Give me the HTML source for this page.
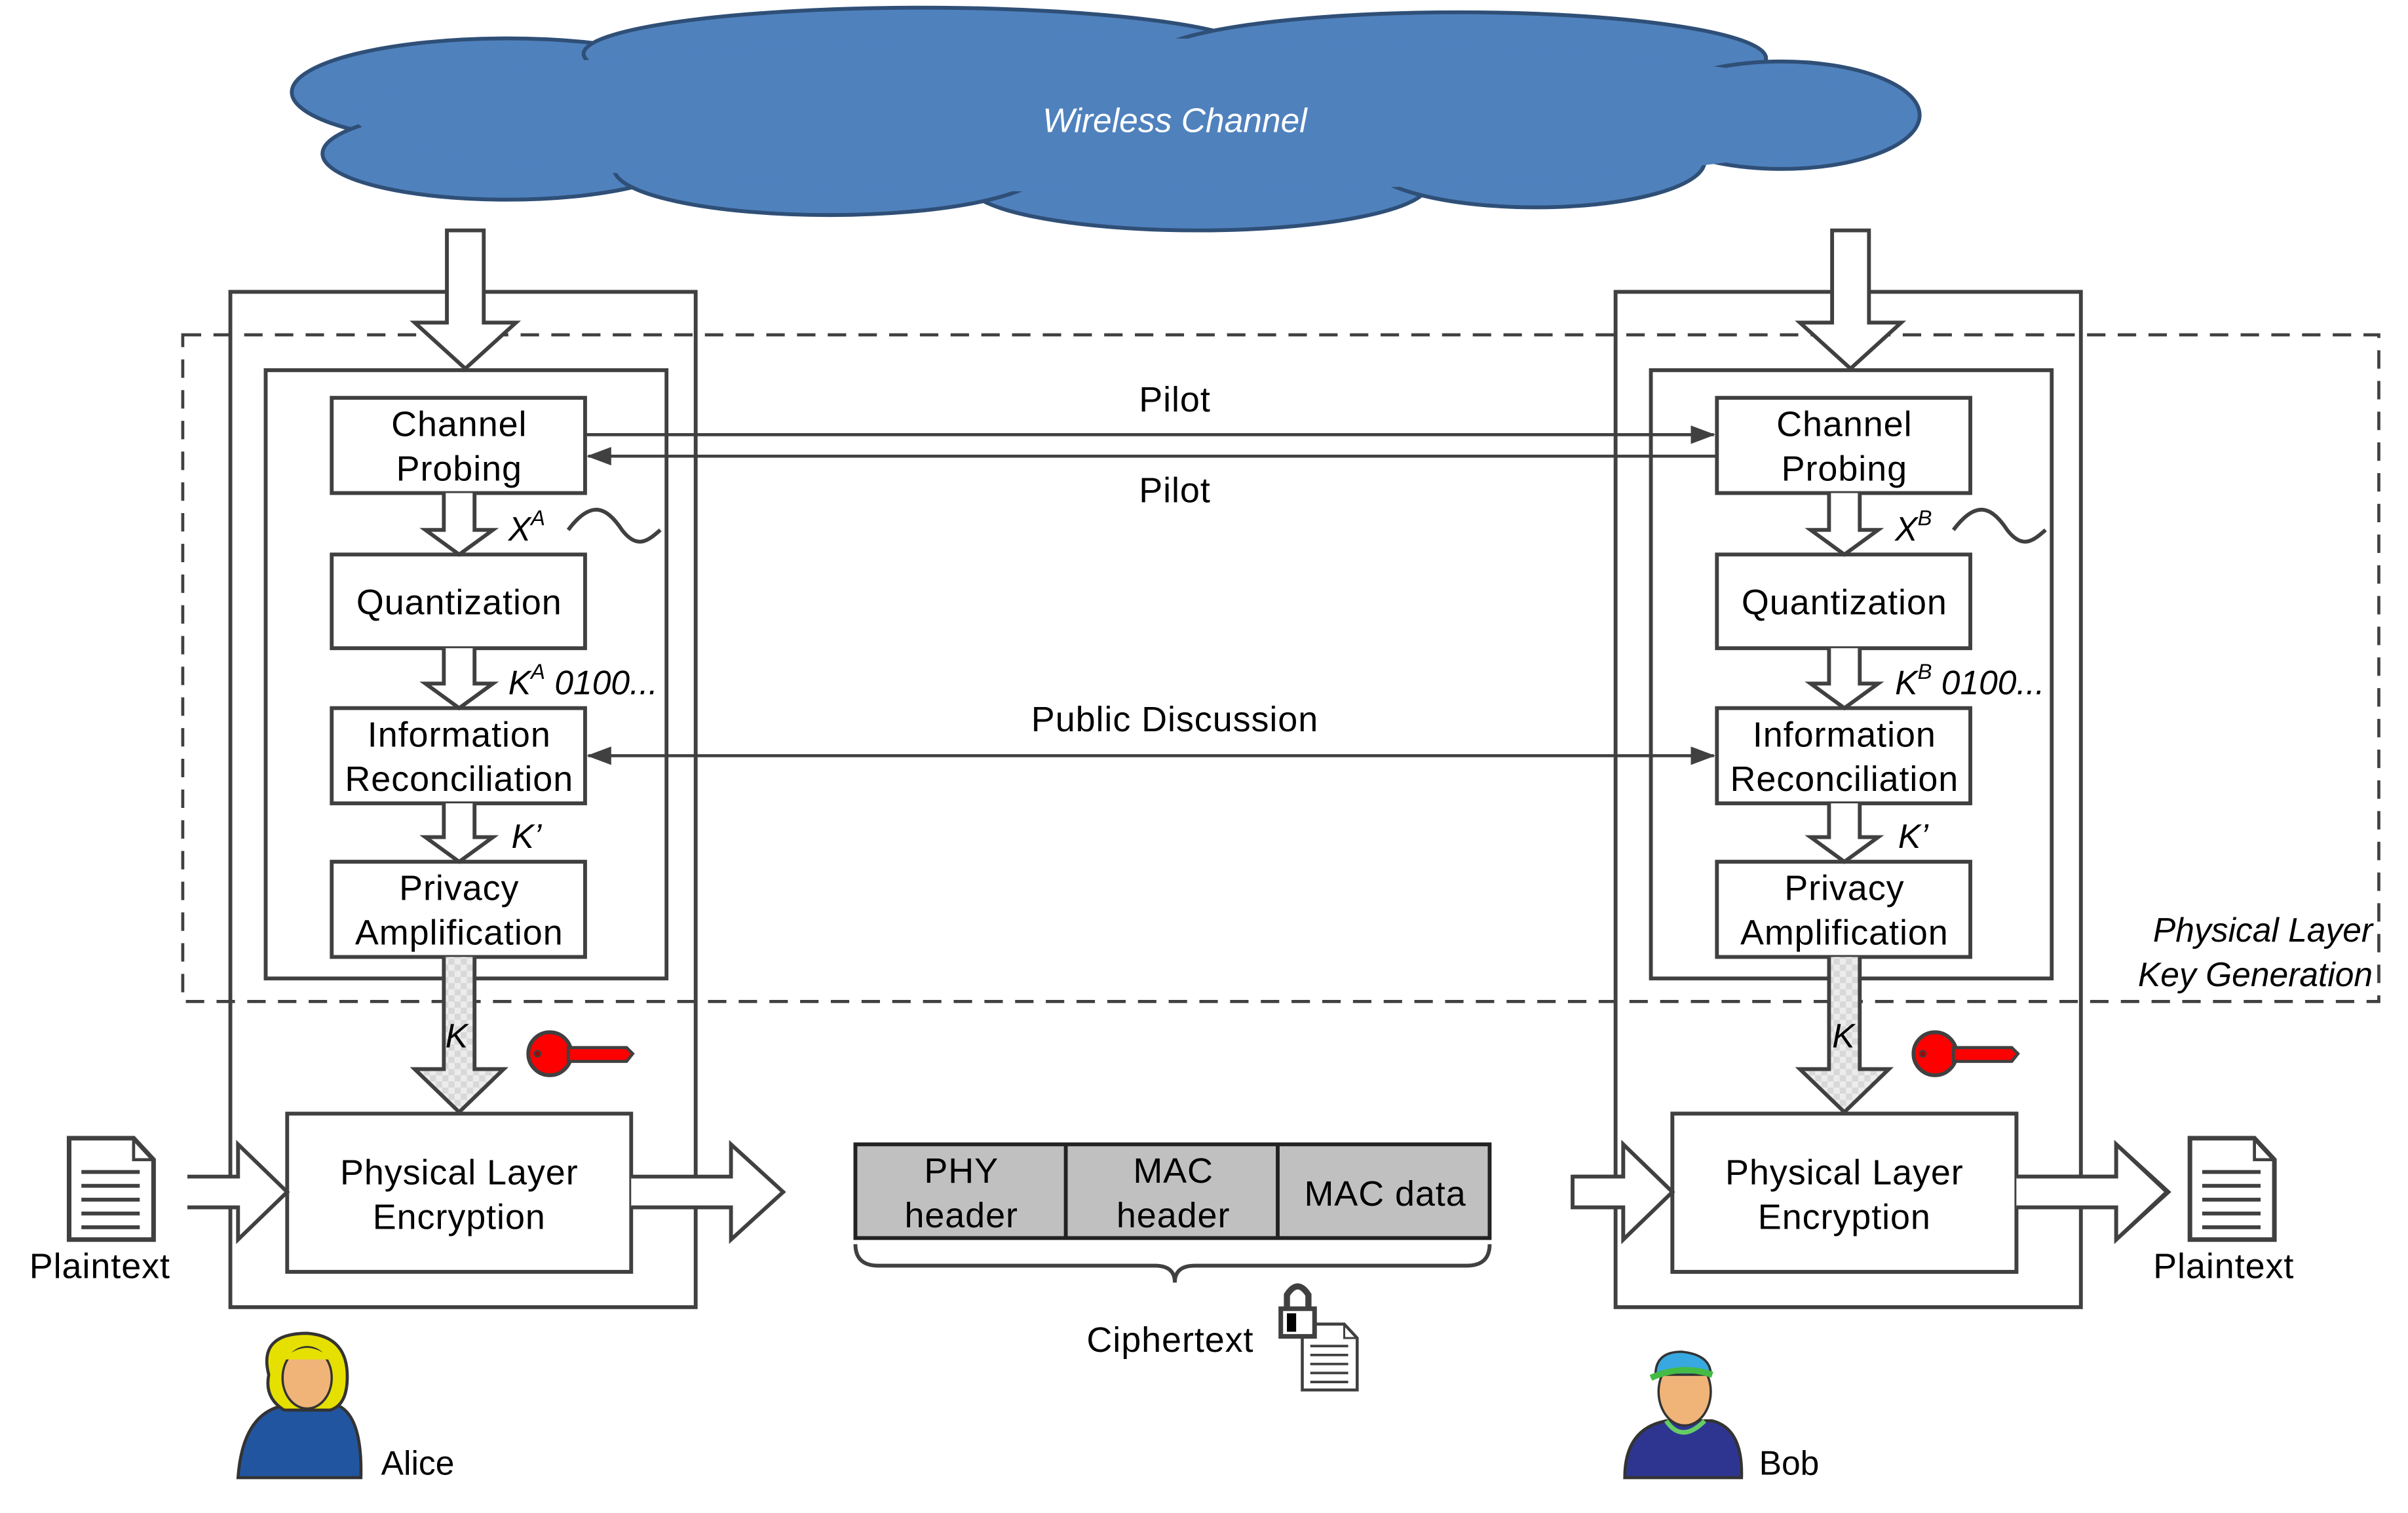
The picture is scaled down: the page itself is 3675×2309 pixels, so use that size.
<!DOCTYPE html>
<html><head><meta charset="utf-8"><style>
html,body{margin:0;padding:0;background:#fff;}
svg{display:block;}
text{font-family:"Liberation Sans",sans-serif;fill:#000;}
</style></head><body>
<svg width="3675" height="2309" viewBox="0 0 1568 985" preserveAspectRatio="none" xmlns="http://www.w3.org/2000/svg">
<defs>
<pattern id="chk" width="8" height="8" patternUnits="userSpaceOnUse">
<rect width="8" height="8" fill="#d8d8d8"/><rect width="4" height="4" fill="#ececec"/><rect x="4" y="4" width="4" height="4" fill="#ececec"/>
</pattern>
<marker id="ahs" markerWidth="16" markerHeight="12" refX="15" refY="6" orient="auto-start-reverse" markerUnits="userSpaceOnUse"><path d="M0,0 L16,6 L0,12 z" fill="#404040"/></marker>
<g id="doc"><path d="M0,0 H42 L55,14 V66 H0 Z" fill="#fff" stroke="#404040" stroke-width="3"/><path d="M42,0 V14 H55" fill="none" stroke="#404040" stroke-width="2"/><g stroke="#404040" stroke-width="2.5"><line x1="8" y1="22" x2="46" y2="22"/><line x1="8" y1="31" x2="46" y2="31"/><line x1="8" y1="40" x2="46" y2="40"/><line x1="8" y1="49" x2="46" y2="49"/><line x1="8" y1="58" x2="46" y2="58"/></g></g>
<g id="key"><circle cx="16" cy="0" r="14" fill="#f00" stroke="#404040" stroke-width="2.5"/><path d="M28,-4 H66 L70,0 L66,5 H28 Z" fill="#f00" stroke="#404040" stroke-width="2"/><circle cx="8" cy="0" r="2" fill="#a00" stroke="#404040"/></g>
</defs>

<g fill="#4f81bd" stroke="#2f4f77" stroke-width="2.5">
<ellipse cx="330" cy="60" rx="140" ry="35"/>
<ellipse cx="600" cy="35" rx="220" ry="30"/>
<ellipse cx="950" cy="38" rx="200" ry="30"/>
<ellipse cx="1160" cy="75" rx="90" ry="35"/>
<ellipse cx="330" cy="100" rx="120" ry="30"/>
<ellipse cx="780" cy="120" rx="150" ry="30"/>
<ellipse cx="1000" cy="105" rx="110" ry="30"/>
<ellipse cx="540" cy="110" rx="140" ry="30"/>
</g>
<ellipse cx="730" cy="75" rx="500" ry="50" fill="#4f81bd"/>
<text x="765" y="86" font-size="22" font-style="italic" text-anchor="middle" style="fill:#fff">Wireless Channel</text>

<rect x="119" y="218" width="1430" height="434" fill="none" stroke="#404040" stroke-width="2" stroke-dasharray="12,8"/>
<text x="1545" y="613" font-size="22" font-style="italic" text-anchor="end">Physical Layer</text>
<text x="1545" y="642" font-size="22" font-style="italic" text-anchor="end">Key Generation</text>

<g id="party" stroke="#404040" stroke-width="2.5" fill="none">
<rect x="150" y="190" width="303" height="661"/>
<rect x="173" y="241" width="261" height="396"/>
<path d="M291,150 H315 V210 H336 L303,240 L270,210 H291 Z" fill="#fff"/>
<rect x="216" y="259" width="165" height="62" fill="#fff"/>
<rect x="216" y="361" width="165" height="61" fill="#fff"/>
<rect x="216" y="461" width="165" height="62" fill="#fff"/>
<rect x="216" y="561" width="165" height="62" fill="#fff"/>
<path d="M289,321 V345 H277 L299,361 L321,345 H309 V321" fill="#fff"/>
<path d="M289,422 V445 H277 L299,461 L321,445 H309 V422" fill="#fff"/>
<path d="M289,523 V545 H277 L299,561 L321,545 H309 V523" fill="#fff"/>
<path d="M289,623 V696 H270 L299,724 L328,696 H309 V623" fill="url(#chk)"/>
<path d="M370,345 C385,325 395,330 405,345 C415,358 422,352 430,345"/>
<rect x="187" y="725" width="224" height="103" fill="#fff"/>
<path d="M122,766 H155 V745 L187,776 L155,807 V786 H122" fill="#fff"/>
<path d="M411,766 H476 V745 L510,776 L476,807 V786 H411" fill="#fff"/>
</g>
<use href="#party" x="902"/>
<rect x="1089" y="725" width="224" height="103" fill="#fff" stroke="#404040" stroke-width="2.5"/>
<path d="M1024,766 H1057 V745 L1089,776 L1057,807 V786 H1024 Z" fill="#fff" stroke="#404040" stroke-width="2.5"/>
<path d="M1313,766 H1378 V745 L1411,776 L1378,807 V786 H1313" fill="#fff" stroke="#404040" stroke-width="2.5"/>

<g font-size="23" text-anchor="middle" letter-spacing="0.4">
<text x="299" y="284">Channel</text><text x="299" y="313">Probing</text>
<text x="299" y="400">Quantization</text>
<text x="299" y="486">Information</text><text x="299" y="515">Reconciliation</text>
<text x="299" y="586">Privacy</text><text x="299" y="615">Amplification</text>
<text x="299" y="771">Physical Layer</text><text x="299" y="800">Encryption</text>
<text x="1201" y="284">Channel</text><text x="1201" y="313">Probing</text>
<text x="1201" y="400">Quantization</text>
<text x="1201" y="486">Information</text><text x="1201" y="515">Reconciliation</text>
<text x="1201" y="586">Privacy</text><text x="1201" y="615">Amplification</text>
<text x="1201" y="771">Physical Layer</text><text x="1201" y="800">Encryption</text>
<text x="765" y="268">Pilot</text>
<text x="765" y="327">Pilot</text>
<text x="765" y="476">Public Discussion</text>
<text x="65" y="832">Plaintext</text>
<text x="1448" y="832">Plaintext</text>
<text x="762" y="880">Ciphertext</text>
</g>
<g font-size="22" font-style="italic">
<text x="331" y="352">X<tspan font-size="14" dy="-10">A</tspan></text>
<text x="1234" y="352">X<tspan font-size="14" dy="-10">B</tspan></text>
<text x="331" y="452">K<tspan font-size="14" dy="-10">A</tspan><tspan dy="10"> 0100...</tspan></text>
<text x="1234" y="452">K<tspan font-size="14" dy="-10">B</tspan><tspan dy="10"> 0100...</tspan></text>
<text x="333" y="552">K’</text>
<text x="1236" y="552">K’</text>
<text x="290" y="682">K</text>
<text x="1193" y="682">K</text>
</g>

<g stroke="#404040" stroke-width="2">
<line x1="381" y1="283" x2="1116" y2="283" marker-end="url(#ahs)"/>
<line x1="1118" y1="297" x2="383" y2="297" marker-end="url(#ahs)"/>
<line x1="383" y1="492" x2="1116" y2="492" marker-end="url(#ahs)" marker-start="url(#ahs)"/>
</g>

<use href="#key" x="342" y="686"/>
<use href="#key" x="1244" y="686"/>
<use href="#doc" x="45" y="741"/>
<use href="#doc" x="1426" y="741"/>

<g stroke="#222" stroke-width="2.5">
<rect x="557" y="745" width="413" height="61" fill="#c0c0c0"/>
<line x1="694" y1="745" x2="694" y2="806"/><line x1="832" y1="745" x2="832" y2="806"/>
</g>
<g font-size="23" text-anchor="middle" letter-spacing="0.4">
<text x="626" y="770">PHY</text><text x="626" y="799">header</text>
<text x="764" y="770">MAC</text><text x="764" y="799">header</text>
<text x="902" y="785">MAC data</text>
</g>
<path d="M557,810 Q557,824 572,824 H752 Q765,824 765,835 Q765,824 778,824 H955 Q970,824 970,810" fill="none" stroke="#404040" stroke-width="2.5"/>
<use href="#doc" transform="translate(848,862) scale(0.65)"/>
<path d="M838,856 V843 Q845,832 852,843 V856" fill="none" stroke="#404040" stroke-width="4"/>
<rect x="834" y="852" width="22" height="18" fill="#fff" stroke="#404040" stroke-width="3"/>
<rect x="838" y="855" width="6" height="12" fill="#000"/>

<g>
<path d="M155,962 Q158,920 185,915 L220,915 Q236,922 235,962 Z" fill="#2255a0" stroke="#333" stroke-width="2"/>
<path d="M175,895 Q168,868 200,868 Q228,870 226,900 Q225,915 215,918 L185,918 Q172,910 175,895 Z" fill="#e6e000" stroke="#333" stroke-width="2"/>
<ellipse cx="200" cy="897" rx="16" ry="20" fill="#f0b478" stroke="#333" stroke-width="1.5"/>
<path d="M184,885 Q200,870 216,885" fill="#e6e000"/>
</g>
<text x="272" y="960" font-size="22" text-anchor="middle">Alice</text>
<g>
<path d="M1058,962 Q1058,930 1085,925 L1115,925 Q1135,930 1134,962 Z" fill="#2e3590" stroke="#333" stroke-width="2"/>
<path d="M1085,925 Q1095,940 1110,925" fill="none" stroke="#6c6" stroke-width="3"/>
<ellipse cx="1097" cy="906" rx="17" ry="22" fill="#f0b478" stroke="#333" stroke-width="1.5"/>
<path d="M1078,895 Q1078,880 1095,880 Q1114,882 1114,895 Z" fill="#38a8e0" stroke="#333" stroke-width="1.5"/>
<path d="M1075,897 Q1095,888 1115,895" fill="none" stroke="#4b4" stroke-width="4"/>
</g>
<text x="1165" y="960" font-size="22" text-anchor="middle">Bob</text>
</svg>
</body></html>
